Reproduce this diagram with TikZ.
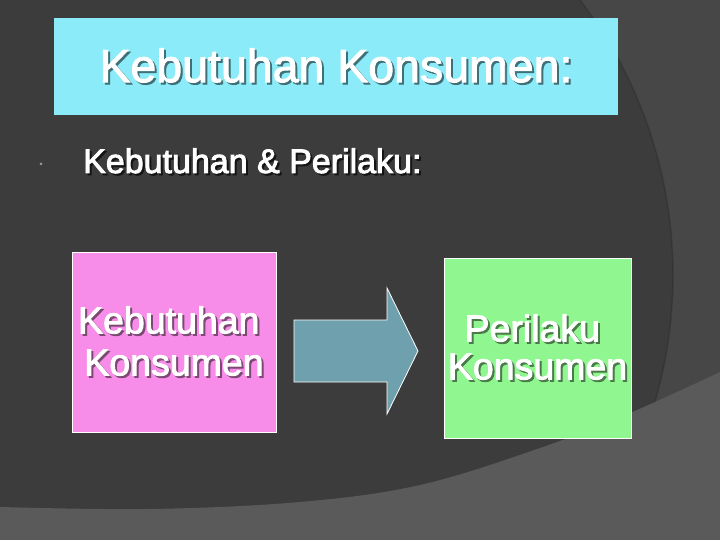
\documentclass[tikz,border=0pt]{standalone}
\usepackage{fontspec}
\setmainfont{Liberation Sans}
\definecolor{bgdark}{HTML}{3C3C3C}
\definecolor{bgring}{HTML}{474747}
\definecolor{bglight}{HTML}{5A5A5A}
\definecolor{cyanfill}{HTML}{8BEBF8}
\definecolor{pinkfill}{HTML}{F78CE9}
\definecolor{greenfill}{HTML}{90F790}
\definecolor{arrowfill}{HTML}{6FA0AE}
\definecolor{bulletcol}{HTML}{8C9AAA}
\definecolor{shcyan}{HTML}{3F7078}
\definecolor{shpink}{HTML}{7A4A72}
\definecolor{shgreen}{HTML}{4A7A4A}
\definecolor{shdark}{HTML}{151515}
\newcommand\heavytext[1]{\special{pdf:code q 2 Tr 0.9 w}#1\special{pdf:code Q}}
\newcommand\shadowed[2]{\leavevmode\rlap{\hspace{2pt}\raisebox{-2pt}{\textcolor{#1}{\heavytext{#2}}}}\heavytext{#2}}
\begin{document}
\begin{tikzpicture}[x=1pt,y=1pt,
  titlebox/.style={rectangle, fill=cyanfill, inner sep=0pt, minimum width=564, minimum height=97,
    text=white, font=\fontsize{46.5}{50}\selectfont},
  subtext/.style={anchor=base west, inner sep=0pt, text=white, font=\fontsize{34}{37}\selectfont},
  colbox/.style={rectangle, draw=white, line width=0.8pt, inner sep=0pt, text=white, align=center},
  blockarrow/.style={draw=white, line width=0.8pt, fill=arrowfill, line join=miter}
]
\useasboundingbox (0,0) rectangle (720,-540);
% background
\fill[bgdark] (0,0) rectangle (720,-540);
\begin{scope}
  \clip (0,0) rectangle (720,-540);
  \fill[bgring, even odd rule] (0,0) rectangle (720,-540) (220,-275) circle (453);
  \draw[black, opacity=0.15, line width=1.5pt] (220,-275) circle (453);
\end{scope}
\fill[bglight] (0,-507) plot[smooth, tension=0.6] coordinates
  {(0,-507) (150,-509) (300,-502) (420,-485) (540,-448) (630,-413) (720,-372)}
  -- (720,-540) -- (0,-540) -- cycle;
% title
\node[titlebox] (title) at (336,-66.5) {\shadowed{shcyan}{Kebutuhan Konsumen:}};
% bullet and subtitle
\node[circle, fill=bulletcol, inner sep=0pt, minimum size=3pt] (bullet) at (41,-164) {};
\node[subtext] (sub) at (83,-173) {\shadowed{shdark}{Kebutuhan \& Perilaku:}};
% boxes
\node[colbox, fill=pinkfill, minimum width=204, minimum height=180,
  font=\fontsize{37.5}{42}\selectfont] (need) at (174,-342)
  {\shadowed{shpink}{Kebutuhan}\hspace*{0.278em}\\\shadowed{shpink}{Konsumen}};
\node[colbox, fill=greenfill, minimum width=187, minimum height=180,
  font=\fontsize{37.5}{38}\selectfont] (behav) at (537.5,-348)
  {\raisebox{-2.5pt}{\shadowed{shgreen}{Perilaku}}\hspace*{0.278em}\\\raisebox{-2.5pt}{\shadowed{shgreen}{Konsumen}}};
% block arrow
\draw[blockarrow] (294,-320) -- (387,-320) -- (387,-288) -- (418,-351)
  -- (387,-414) -- (387,-382) -- (294,-382) -- cycle;
\end{tikzpicture}
\end{document}
